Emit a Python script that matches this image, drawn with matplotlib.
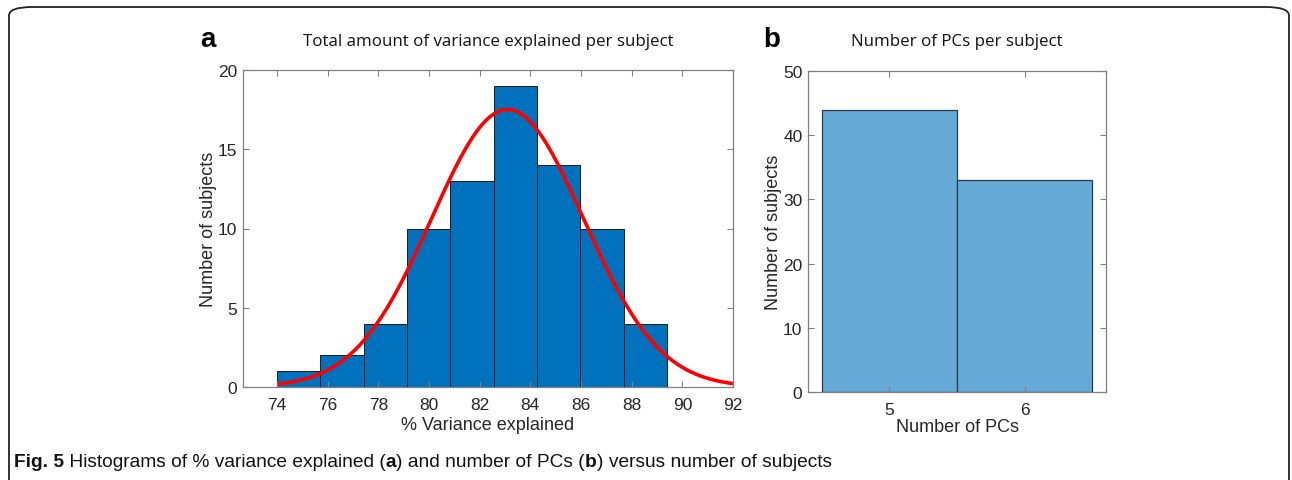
import numpy as np
import matplotlib
matplotlib.use("Agg")
import matplotlib.pyplot as plt
from matplotlib.patches import FancyBboxPatch

# 数据 (a): 方差解释百分比直方图
bin_edges = [74.0, 75.71, 77.42, 79.13, 80.84, 82.55, 84.26, 85.97, 87.68, 89.39]
bin_counts = [1, 2, 4, 10, 13, 19, 14, 10, 4]
fit_mu = 83.1
fit_sigma = 3.0
fit_range = [74.1, 92.0]
a_xticks = [74, 76, 78, 80, 82, 84, 86, 88, 90, 92]
a_yticks = [0, 5, 10, 15, 20]

# 数据 (b): 主成分个数
pc_values = [5, 6]
pc_counts = [44, 33]
b_yticks = [0, 10, 20, 30, 40, 50]

# 图注 (文本, 是否加粗)
caption_parts = [("Fig. 5", True), (" Histograms of % variance explained (", False),
                 ("a", True), (") and number of PCs (", False), ("b", True),
                 (") versus number of subjects", False)]

W, H = 1292, 481
fig = plt.figure(figsize=(W / 100, H / 100), dpi=100)
plt.rcParams['font.family'] = ['Liberation Sans', 'DejaVu Sans']

tick_col = "#262626"
spine_col = "#808080"


def px_axes(x0, y0, x1, y1):
    # 像素坐标 -> figure坐标
    return fig.add_axes([x0 / W, 1 - y1 / H, (x1 - x0) / W, (y1 - y0) / H])


def style(ax):
    for s in ax.spines.values():
        s.set_color(spine_col)
        s.set_linewidth(0.9)
    ax.tick_params(direction="in", top=True, right=True, colors=spine_col,
                   labelcolor=tick_col, labelsize=12.5, length=4, width=0.8)
    ax.tick_params(axis="x", pad=7)
    ax.tick_params(axis="y", pad=4)


# 外框
frame = FancyBboxPatch((9 / W, -0.05), (W - 12) / W, 1 - 8 / H + 0.05,
                       boxstyle="round,pad=0,rounding_size=0.018",
                       transform=fig.transFigure, fill=False,
                       edgecolor="#222222", linewidth=1.3)
fig.patches.append(frame)

############################################################
ax1 = px_axes(243, 71, 733, 388)
widths = np.diff(bin_edges)
ax1.bar(bin_edges[:-1], bin_counts, width=widths, align="edge",
        color="#0072BD", edgecolor="#1a1a1a", linewidth=0.7)
xs = np.linspace(fit_range[0], fit_range[1], 300)
scale = sum(bin_counts) * np.mean(widths)
ys = scale / (fit_sigma * np.sqrt(2 * np.pi)) * np.exp(-0.5 * ((xs - fit_mu) / fit_sigma) ** 2)
ax1.plot(xs, ys, color="#FF0000", linewidth=2.6)
ax1.set_xlim(72.66, 92)
ax1.set_ylim(0, 20)
ax1.set_xticks(a_xticks)
ax1.set_yticks(a_yticks)
style(ax1)
ax1.set_xlabel("% Variance explained", fontsize=13, color=tick_col, labelpad=3)
ax1.set_ylabel("Number of subjects", fontsize=13, color=tick_col, labelpad=1)
ax1.set_title("Total amount of variance explained per subject",
              fontsize=12.2, family=["Open Sans", "DejaVu Sans"], color="#111111", pad=18)

############################################################
ax2 = px_axes(808, 72, 1106, 393)
ax2.bar(pc_values, pc_counts, width=1.0, color="#66AAD7",
        edgecolor="#2a3a44", linewidth=0.9)
ax2.set_xlim(4.4, 6.6)
ax2.set_ylim(0, 50)
ax2.set_xticks(pc_values)
ax2.set_yticks(b_yticks)
style(ax2)
ax2.set_xlabel("Number of PCs", fontsize=13, color=tick_col, labelpad=1)
ax2.set_ylabel("Number of subjects", fontsize=13, color=tick_col, labelpad=1)
ax2.set_title("Number of PCs per subject",
              fontsize=12.2, family=["Open Sans", "DejaVu Sans"], color="#111111", pad=19)

# 面板标签
fig.text(208 / W, 1 - 40 / H, "a", fontsize=20, fontweight="bold", ha="center", va="center")
fig.text(772 / W, 1 - 40 / H, "b", fontsize=20, fontweight="bold", ha="center", va="center")

# 图注
fig.canvas.draw()
renderer = fig.canvas.get_renderer()
x = 14
for txt, bold in caption_parts:
    t = fig.text(x / W, 1 - 463 / H, txt, fontsize=13.8,
                 fontweight="bold" if bold else "normal",
                 va="center", ha="left", color="#111111")
    bb = t.get_window_extent(renderer=renderer)
    x = bb.x1

fig.savefig("out.png", dpi=100)
